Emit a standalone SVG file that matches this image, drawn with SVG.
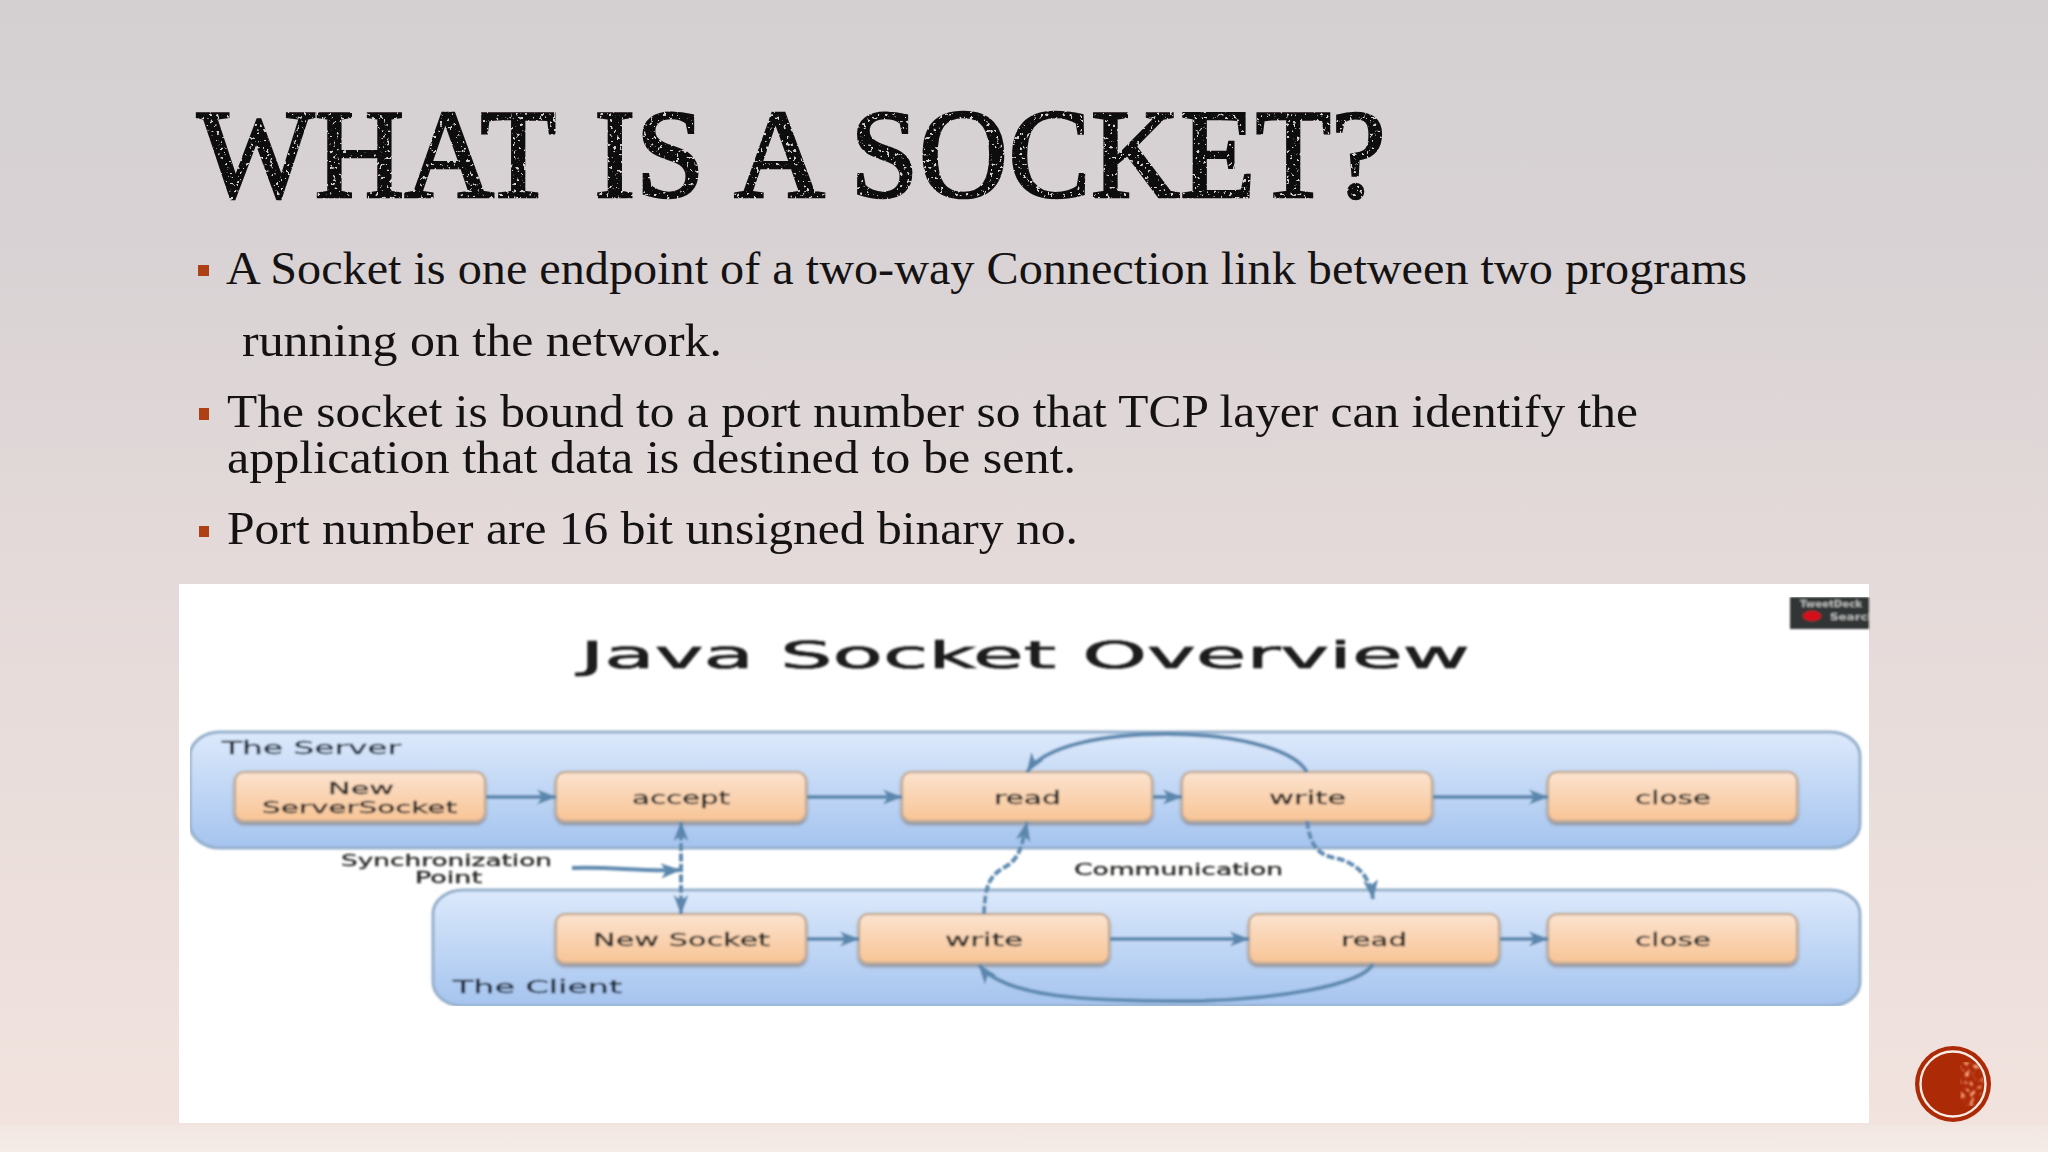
<svg xmlns="http://www.w3.org/2000/svg" width="2048" height="1152" viewBox="0 0 2048 1152">
<style>
.s{font-family:"Liberation Serif","DejaVu Serif",serif;font-size:47px;fill:#151213}
.t{font-family:"Liberation Serif","DejaVu Serif",serif;font-size:126px;fill:#0b0909;stroke:#0b0909;stroke-width:2.6}
.d{font-family:"DejaVu Sans","Liberation Sans",sans-serif;fill:#2b2a28;font-size:18px;stroke:#2b2a28;stroke-width:.35}
.m{font-size:15.5px}
.l{fill:#1d2b3c;stroke:#1d2b3c;font-size:18px}
.n{fill:url(#ng);stroke:#c4ae97;stroke-width:2.5;filter:url(#sh)}
.c{fill:url(#cg);stroke:#94afcb;stroke-width:3}
.a{fill:none;stroke:#5f8ab0;stroke-width:4;marker-end:url(#ar)}
.k{stroke-dasharray:8 2.5}
.u{fill:#ad4115}
</style>
<defs>
<linearGradient id="bg" x1="0" y1="0" x2="0" y2="1"><stop offset="0" stop-color="#d4d0d2"/><stop offset=".2" stop-color="#d8d2d4"/><stop offset=".5" stop-color="#e4dad9"/><stop offset="1" stop-color="#f2e3de"/></linearGradient>
<linearGradient id="bt" x1="0" y1="0" x2="0" y2="1"><stop offset="0" stop-color="#f2e6e1"/><stop offset="1" stop-color="#f5ece7"/></linearGradient>
<linearGradient id="ng" x1="0" y1="0" x2="0" y2="1"><stop offset="0" stop-color="#fbe3cf"/><stop offset="1" stop-color="#f8c495"/></linearGradient>
<linearGradient id="cg" x1="0" y1="0" x2="0" y2="1"><stop offset="0" stop-color="#dce9fb"/><stop offset="1" stop-color="#a5c4ef"/></linearGradient>
<marker id="ar" markerUnits="userSpaceOnUse" markerWidth="22" markerHeight="18" refX="19" refY="9" orient="auto-start-reverse"><path d="M0,1.5L20,9L0,16.5L5,9z" fill="#5b87ad"/></marker>
<filter id="sh" x="-5%" y="-10%" width="110%" height="130%"><feDropShadow dx="0" dy="2.5" stdDeviation="1.5" flood-color="#6f5f52" flood-opacity=".6"/></filter>
<filter id="soft" x="0" y="0" width="100%" height="100%"><feGaussianBlur stdDeviation=".8"/></filter>
<filter id="ds" x="-2%" y="-10%" width="104%" height="120%">
<feTurbulence type="fractalNoise" baseFrequency=".3" numOctaves="2" seed="7" result="n"/>
<feColorMatrix in="n" type="matrix" values="0 0 0 0 0 0 0 0 0 0 0 0 0 0 0 0 0 0 -14 9.9" result="m"/>
<feComposite in="SourceGraphic" in2="m" operator="in"/>
<feGaussianBlur stdDeviation=".45"/>
</filter>
<filter id="sp" x="0" y="0" width="100%" height="100%">
<feTurbulence type="fractalNoise" baseFrequency=".2" numOctaves="2" seed="3" result="n"/>
<feColorMatrix in="n" type="matrix" values="0 0 0 0 .9 0 0 0 0 .36 0 0 0 0 .2 0 0 0 10 -5.6" result="m"/>
<feComposite in="m" in2="SourceGraphic" operator="in"/>
<feGaussianBlur stdDeviation=".8"/>
</filter>
<clipPath id="tw"><rect x="1790" y="597" width="79" height="32"/></clipPath>
<clipPath id="bc"><circle cx="1953" cy="1084" r="31"/></clipPath>
</defs>
<rect width="2048" height="1152" fill="url(#bg)"/>
<rect y="1125" width="2048" height="27" fill="url(#bt)"/>

<g id="slide-title"><text class="t" y="197" filter="url(#ds)"><tspan x="197" textLength="357" lengthAdjust="spacingAndGlyphs">WHAT</tspan> <tspan x="594" textLength="111" lengthAdjust="spacingAndGlyphs">IS</tspan> <tspan x="734" textLength="84" lengthAdjust="spacingAndGlyphs">A</tspan> <tspan x="850" textLength="536" lengthAdjust="spacingAndGlyphs">SOCKET?</tspan></text></g>

<g id="slide-body">
<rect class="u" x="198" y="265" width="11" height="11"/>
<rect class="u" x="199" y="408" width="10" height="12"/>
<rect class="u" x="199" y="526" width="10" height="11"/>
<text class="s" x="226" y="284" textLength="1521" lengthAdjust="spacingAndGlyphs">A Socket is one endpoint of a two-way Connection link between two programs</text>
<text class="s" x="242" y="356" textLength="480" lengthAdjust="spacingAndGlyphs">running on the network.</text>
<text class="s" x="227" y="427" textLength="1411" lengthAdjust="spacingAndGlyphs">The socket is bound to a port number so that TCP layer can identify the</text>
<text class="s" x="227" y="473" textLength="849" lengthAdjust="spacingAndGlyphs">application that data is destined to be sent.</text>
<text class="s" x="227" y="544" textLength="851" lengthAdjust="spacingAndGlyphs">Port number are 16 bit unsigned binary no.</text>
</g>

<rect id="panel" x="179" y="584" width="1690" height="539" fill="#fff"/>
<g filter="url(#soft)">
<g id="tweetdeck-badge"><rect x="1790" y="597" width="79" height="32" fill="#333535"/>
<g clip-path="url(#tw)"><text x="1800" y="607" font-family="DejaVu Sans,sans-serif" font-size="8" font-weight="bold" fill="#b9baba" textLength="62" lengthAdjust="spacingAndGlyphs">TweetDeck</text>
<ellipse cx="1812" cy="616" rx="9" ry="5" fill="#d8101a"/>
<text x="1830" y="620" font-family="DejaVu Sans,sans-serif" font-size="8" font-weight="bold" fill="#b9baba" textLength="46" lengthAdjust="spacingAndGlyphs">Search</text></g></g>
<text id="chart-title" x="580" y="668" font-family="DejaVu Sans,sans-serif" font-size="38" fill="#1a1a1a" stroke="#1a1a1a" stroke-width=".7" textLength="890" lengthAdjust="spacingAndGlyphs">Java Socket Overview</text>

<g id="server"><rect class="c" x="190" y="732" width="1670" height="116" rx="30" ry="24"/><text class="d l" x="222" y="754" textLength="179" lengthAdjust="spacingAndGlyphs">The Server</text></g>
<g id="client"><rect class="c" x="433" y="890" width="1427" height="116" rx="30" ry="24"/><text class="d l" x="453" y="993" textLength="169" lengthAdjust="spacingAndGlyphs">The Client</text></g>

<g id="n-serversocket"><rect class="n" x="235" y="772" width="250" height="49" rx="9"/><text class="d m" x="328" y="794" textLength="66" lengthAdjust="spacingAndGlyphs">New</text><text class="d m" x="262" y="813" textLength="195" lengthAdjust="spacingAndGlyphs">ServerSocket</text></g>
<g id="n-accept"><rect class="n" x="556" y="772" width="250" height="49" rx="9"/><text class="d" x="632" y="804" textLength="98" lengthAdjust="spacingAndGlyphs">accept</text></g>
<g id="n-read-s"><rect class="n" x="902" y="772" width="250" height="49" rx="9"/><text class="d" x="994" y="804" textLength="67" lengthAdjust="spacingAndGlyphs">read</text></g>
<g id="n-write-s"><rect class="n" x="1182" y="772" width="250" height="49" rx="9"/><text class="d" x="1269" y="804" textLength="77" lengthAdjust="spacingAndGlyphs">write</text></g>
<g id="n-close-s"><rect class="n" x="1548" y="772" width="249" height="49" rx="9"/><text class="d" x="1635" y="804" textLength="76" lengthAdjust="spacingAndGlyphs">close</text></g>
<g id="n-socket"><rect class="n" x="556" y="914" width="250" height="49" rx="9"/><text class="d" x="593" y="946" textLength="177" lengthAdjust="spacingAndGlyphs">New Socket</text></g>
<g id="n-write-c"><rect class="n" x="859" y="914" width="250" height="49" rx="9"/><text class="d" x="945" y="946" textLength="78" lengthAdjust="spacingAndGlyphs">write</text></g>
<g id="n-read-c"><rect class="n" x="1249" y="914" width="250" height="49" rx="9"/><text class="d" x="1341" y="946" textLength="66" lengthAdjust="spacingAndGlyphs">read</text></g>
<g id="n-close-c"><rect class="n" x="1548" y="914" width="249" height="49" rx="9"/><text class="d" x="1635" y="946" textLength="76" lengthAdjust="spacingAndGlyphs">close</text></g>

<g id="connectors">
<path class="a" d="M486,797H556"/>
<path class="a" d="M807,797H902"/>
<path class="a" d="M1153,797H1182"/>
<path class="a" d="M1433,797H1548"/>
<path class="a" d="M807,939H859"/>
<path class="a" d="M1110,939H1249"/>
<path class="a" d="M1500,939H1548"/>
<path class="a" d="M1307,772C1292,746 1225,734 1167,734C1105,734 1045,745 1027,772"/>
<path class="a" d="M1373,964C1362,985 1275,1001 1180,1001C1090,1001 1005,998 979,965"/>
<path class="a k" d="M681,914V822" style="marker-start:url(#ar)"/>
<path class="a" d="M572,868C610,866 640,872 680,870" stroke-width="3"/>
<path class="a k" d="M984,914C985,885 990,876 1003,868C1020,860 1022,845 1027,822"/>
<path class="a k" d="M1307,821C1310,845 1318,855 1335,858C1355,862 1370,875 1373,899"/>
</g>
<g id="labels">
<text class="d m" x="341" y="866" textLength="211" lengthAdjust="spacingAndGlyphs">Synchronization</text>
<text class="d m" x="415" y="883" textLength="67" lengthAdjust="spacingAndGlyphs">Point</text>
<text class="d m" x="1074" y="875" textLength="209" lengthAdjust="spacingAndGlyphs">Communication</text>
</g>
</g>

<g id="badge">
<circle cx="1953" cy="1084" r="38" fill="#ad2a07"/>
<g clip-path="url(#bc)"><rect x="1960" y="1062" width="28" height="44" fill="#ad2a07" filter="url(#sp)"/></g>
<circle cx="1953" cy="1084" r="32.5" fill="none" stroke="#f7ece6" stroke-width="2.4"/>
</g>
</svg>
